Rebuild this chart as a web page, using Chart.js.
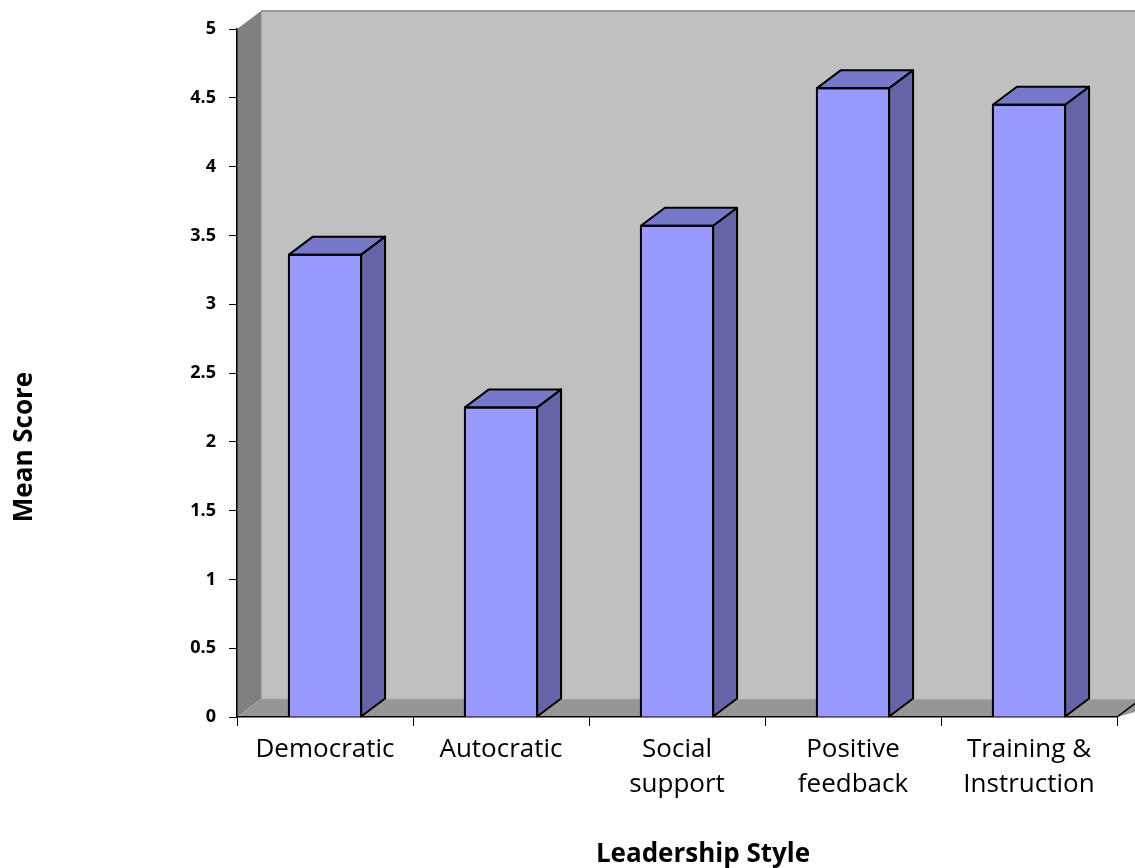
<!DOCTYPE html>
<html>
<head>
<meta charset="utf-8">
<script src="https://cdn.jsdelivr.net/npm/chart.js@4.4.0/dist/chart.umd.min.js"></script>
<style>
  html, body { margin: 0; padding: 0; background: #ffffff; }
  #wrap { width: 1135px; height: 868px; }
</style>
</head>
<body>
<div id="wrap"><canvas id="c" width="1135" height="868"></canvas></div>
<script>
// ---- data ----
const categories = [["Democratic"], ["Autocratic"], ["Social", "support"], ["Positive", "feedback"], ["Training &", "Instruction"]];
const meanScores = [3.36, 2.25, 3.57, 4.57, 4.45];
const yMin = 0;
const yMax = 5;
const yStep = 0.5;
const xTitle = "Leadership Style";
const yTitle = "Mean Score";

// ---- 3D look ----
const DX = 24, DY = -18;

const threeD = {
  id: 'threeD',
  beforeDraw(chart) {
    const ctx = chart.ctx;
    const xs = chart.scales.x, ys = chart.scales.y;
    const L = xs.left, R = xs.right;
    const B = ys.getPixelForValue(yMin), T = ys.getPixelForValue(yMax);
    ctx.save();
    // back wall
    ctx.fillStyle = '#c0c0c0';
    ctx.fillRect(L + DX, T + DY, (R - L) + 40, (B - T));
    // top edge of back wall
    ctx.strokeStyle = '#9a9a9a';
    ctx.lineWidth = 2;
    ctx.beginPath();
    ctx.moveTo(L + DX, T + DY);
    ctx.lineTo(R + 60, T + DY);
    ctx.stroke();
    // left side wall
    ctx.fillStyle = '#808080';
    ctx.beginPath();
    ctx.moveTo(L, T); ctx.lineTo(L + DX, T + DY); ctx.lineTo(L + DX, B + DY); ctx.lineTo(L, B);
    ctx.closePath(); ctx.fill();
    // floor
    ctx.fillStyle = '#969696';
    ctx.beginPath();
    ctx.moveTo(L, B); ctx.lineTo(L + DX, B + DY); ctx.lineTo(R + DX + 40, B + DY); ctx.lineTo(R, B);
    ctx.closePath(); ctx.fill();
    // inner light edges
    ctx.strokeStyle = '#a8a8a8';
    ctx.lineWidth = 1;
    ctx.beginPath();
    ctx.moveTo(L + DX + 0.5, T + DY); ctx.lineTo(L + DX + 0.5, B + DY);
    ctx.lineTo(R + DX + 40, B + DY + 0.5);
    ctx.stroke();
    // floor right edge
    ctx.strokeStyle = '#000';
    ctx.lineWidth = 1.5;
    ctx.beginPath();
    ctx.moveTo(R, B); ctx.lineTo(R + DX, B + DY);
    ctx.stroke();
    ctx.restore();
  },
  afterDatasetsDraw(chart) {
    const ctx = chart.ctx;
    const meta = chart.getDatasetMeta(0);
    ctx.save();
    ctx.lineWidth = 2;
    ctx.strokeStyle = '#000';
    ctx.lineJoin = 'round';
    meta.data.forEach(bar => {
      const p = bar.getProps(['x', 'y', 'base', 'width'], true);
      const l = p.x - p.width / 2, r = p.x + p.width / 2, t = p.y, b = p.base;
      // side
      ctx.fillStyle = '#6464a6';
      ctx.beginPath();
      ctx.moveTo(r, t); ctx.lineTo(r + DX, t + DY); ctx.lineTo(r + DX, b + DY); ctx.lineTo(r, b);
      ctx.closePath(); ctx.fill(); ctx.stroke();
      // top
      ctx.fillStyle = '#7878c8';
      ctx.beginPath();
      ctx.moveTo(l, t); ctx.lineTo(l + DX, t + DY); ctx.lineTo(r + DX, t + DY); ctx.lineTo(r, t);
      ctx.closePath(); ctx.fill(); ctx.stroke();
      // front outline
      ctx.beginPath();
      ctx.moveTo(l, b); ctx.lineTo(l, t); ctx.lineTo(r, t); ctx.lineTo(r, b);
      ctx.stroke();
    });
    ctx.restore();
  },
  afterDraw(chart) {
    // axis titles, placed as in the reference
    const ctx = chart.ctx;
    ctx.save();
    ctx.fillStyle = '#000';
    ctx.font = 'bold 26px "Open Sans"';
    ctx.textAlign = 'center';
    ctx.textBaseline = 'alphabetic';
    ctx.fillText(xTitle, 703, 862);
    ctx.translate(32, 447);
    ctx.rotate(-Math.PI / 2);
    ctx.fillText(yTitle, 0, 0);
    ctx.restore();
  }
};

new Chart(document.getElementById('c'), {
  type: 'bar',
  data: {
    labels: categories,
    datasets: [{
      data: meanScores,
      backgroundColor: '#9999ff',
      borderWidth: 0,
      categoryPercentage: 1.0,
      barPercentage: 0.41
    }]
  },
  options: {
    responsive: false,
    devicePixelRatio: 1,
    animation: false,
    layout: { padding: { top: 29, right: 18, bottom: 0, left: 0 } },
    plugins: { legend: { display: false }, tooltip: { enabled: false } },
    scales: {
      x: {
        grid: { display: true, drawOnChartArea: false, drawTicks: true, tickLength: 9, color: '#000', offset: true },
        border: { display: true, color: '#000', width: 1.5 },
        ticks: { color: '#000', font: { family: 'Open Sans', size: 26, lineHeight: 1.35 }, padding: 6, maxRotation: 0, autoSkip: false },
        title: { display: false },
        afterFit(s) { s.height = 151; }
      },
      y: {
        min: yMin, max: yMax,
        grid: { display: true, drawOnChartArea: false, drawTicks: true, tickLength: 8, color: '#000' },
        border: { display: true, color: '#000', width: 1.5 },
        ticks: { stepSize: yStep, color: '#000', font: { family: 'Open Sans', size: 18, weight: 'bold' }, padding: 13,
                 callback: v => String(v) },
        title: { display: false },
        afterFit(s) { s.width = 237; }
      }
    }
  },
  plugins: [threeD]
});
</script>
</body>
</html>
